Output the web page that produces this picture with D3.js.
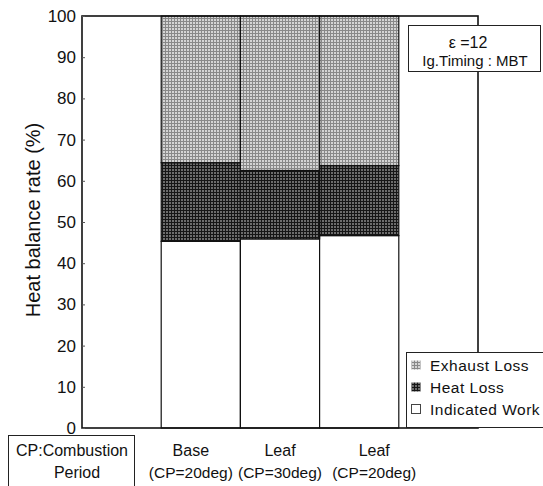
<!DOCTYPE html>
<html lang="en">
<head>
    <meta charset="UTF-8">
    <title>Heat balance rate</title>
    <style>
        body{ margin: 0; overflow: hidden; background: #fff; }
        text{ font-family: "Liberation Sans", Arial, sans-serif; fill: #111; }
    </style>
</head>
<body>
    <script src="https://d3js.org/d3.v7.min.js"></script>
    <script>
        // Data
        const slots = ['cp', 'base', 'leaf30', 'leaf20', 'blank'];
        const cases = ['base', 'leaf30', 'leaf20'];
        const caseTop = ['Base', 'Leaf', 'Leaf'];
        const caseBottom = ['(CP=20deg)', '(CP=30deg)', '(CP=20deg)'];
        const labelShift = [-10, 0, 15]; // labels sit side by side, not quite centred
        const indicatedWork = [45.3, 45.9, 46.7];
        const heatLoss = [19.1, 16.6, 17.0];
        const exhaustLoss = [35.6, 37.5, 36.3];
        const yTicks = [0, 10, 20, 30, 40, 50, 60, 70, 80, 90, 100];
        const seriesNames = ['Indicated Work', 'Heat Loss', 'Exhaust Loss'];

        const width = 543, height = 486;
        const margin = { left: 82, right: 65, top: 16, bottom: 58 };

        const svg = d3.select('body').append('svg')
            .attr('width', width)
            .attr('height', height);

        // hatch patterns for the two loss series
        const defs = svg.append('defs');
        function hatch(id, bg, line, step) {
            const p = defs.append('pattern')
                .attr('id', id)
                .attr('patternUnits', 'userSpaceOnUse')
                .attr('width', step).attr('height', step);
            p.append('rect').attr('width', step).attr('height', step).attr('fill', bg);
            p.append('path')
                .attr('d', `M0,0.5H${step}M0.5,0V${step}`)
                .attr('stroke', line).attr('stroke-width', 1);
        }
        hatch('exhaust', '#d4d4d4', '#888', 3);
        hatch('heat', '#6c6c6c', '#161616', 3);
        const fills = { 'Indicated Work': '#fff', 'Heat Loss': 'url(#heat)', 'Exhaust Loss': 'url(#exhaust)' };

        const x = d3.scaleBand()
            .domain(slots)
            .range([margin.left, width - margin.right])
            .padding(0);

        const y = d3.scaleLinear()
            .domain([0, 100])
            .range([height - margin.bottom, margin.top]);

        const rows = cases.map((c, i) => ({
            key: c,
            'Indicated Work': indicatedWork[i],
            'Heat Loss': heatLoss[i],
            'Exhaust Loss': exhaustLoss[i]
        }));
        const stacked = d3.stack().keys(seriesNames)(rows);

        const layer = svg.selectAll('.layer')
            .data(stacked)
            .enter().append('g')
            .attr('class', 'layer')
            .attr('fill', d => fills[d.key]);

        layer.selectAll('rect')
            .data(d => d)
            .enter().append('rect')
            .attr('x', d => x(d.data.key))
            .attr('y', d => y(Math.min(d[1], 100)))
            .attr('width', x.bandwidth())
            .attr('height', d => y(d[0]) - y(Math.min(d[1], 100)))
            .attr('stroke', '#111')
            .attr('stroke-width', 1.2);

        // frame
        svg.append('rect')
            .attr('x', margin.left)
            .attr('y', margin.top)
            .attr('width', width - margin.left - margin.right)
            .attr('height', height - margin.top - margin.bottom)
            .attr('fill', 'none')
            .attr('stroke', '#111')
            .attr('stroke-width', 1.6);

        // y axis
        const yAxis = svg.append('g')
            .attr('transform', `translate(${margin.left},0)`)
            .call(d3.axisLeft(y).tickValues(yTicks).tickSize(-3).tickPadding(6));
        yAxis.select('.domain').remove();
        yAxis.selectAll('line').attr('stroke', '#555');
        yAxis.selectAll('text').style('font-size', '17px');

        svg.append('text')
            .attr('transform', `translate(40,220) rotate(-90)`)
            .attr('text-anchor', 'middle')
            .style('font-size', '20px')
            .text('Heat balance rate (%)');

        // x labels
        const xl = svg.append('g').selectAll('g')
            .data(cases)
            .enter().append('g')
            .attr('transform', (d, i) => `translate(${x(d) + x.bandwidth() / 2 + labelShift[i]},0)`);
        xl.append('text')
            .attr('y', 456)
            .attr('text-anchor', 'middle')
            .style('font-size', '16px')
            .text((d, i) => caseTop[i]);
        xl.append('text')
            .attr('y', 478)
            .attr('text-anchor', 'middle')
            .style('font-size', '15.5px')
            .text((d, i) => caseBottom[i]);

        // CP note box
        svg.append('rect')
            .attr('x', 8.5).attr('y', 435.5)
            .attr('width', 126).attr('height', 60)
            .attr('fill', '#fff').attr('stroke', '#222');
        svg.append('text').attr('x', 72).attr('y', 456)
            .attr('text-anchor', 'middle').style('font-size', '16px')
            .text('CP:Combustion');
        svg.append('text').attr('x', 77).attr('y', 478)
            .attr('text-anchor', 'middle').style('font-size', '16px')
            .text('Period');

        // annotation box
        svg.append('rect')
            .attr('x', 408.5).attr('y', 25.5)
            .attr('width', 132).attr('height', 46)
            .attr('fill', '#fff').attr('stroke', '#222');
        svg.append('text').attr('x', 468).attr('y', 48)
            .attr('text-anchor', 'middle').style('font-size', '16px')
            .text('\u03b5 =12');
        svg.append('text').attr('x', 475).attr('y', 66)
            .attr('text-anchor', 'middle').style('font-size', '15px')
            .text('Ig.Timing : MBT');

        // legend
        const legendItems = seriesNames.slice().reverse();
        svg.append('rect')
            .attr('x', 406.5).attr('y', 352.5)
            .attr('width', 140).attr('height', 75)
            .attr('fill', '#fff').attr('stroke', '#222');
        const lg = svg.append('g').selectAll('g')
            .data(legendItems)
            .enter().append('g')
            .attr('transform', (d, i) => `translate(411,${365 + i * 22})`);
        lg.append('rect')
            .attr('x', 0.5).attr('y', -4.5)
            .attr('width', 9).attr('height', 9)
            .attr('fill', d => fills[d])
            .attr('stroke', d => d === 'Indicated Work' ? '#444' : 'none');
        lg.append('text')
            .attr('x', 19).attr('y', 6)
            .style('font-size', '15.5px')
            .style('letter-spacing', '0.5px')
            .text(d => d);
    </script>
</body>
</html>
